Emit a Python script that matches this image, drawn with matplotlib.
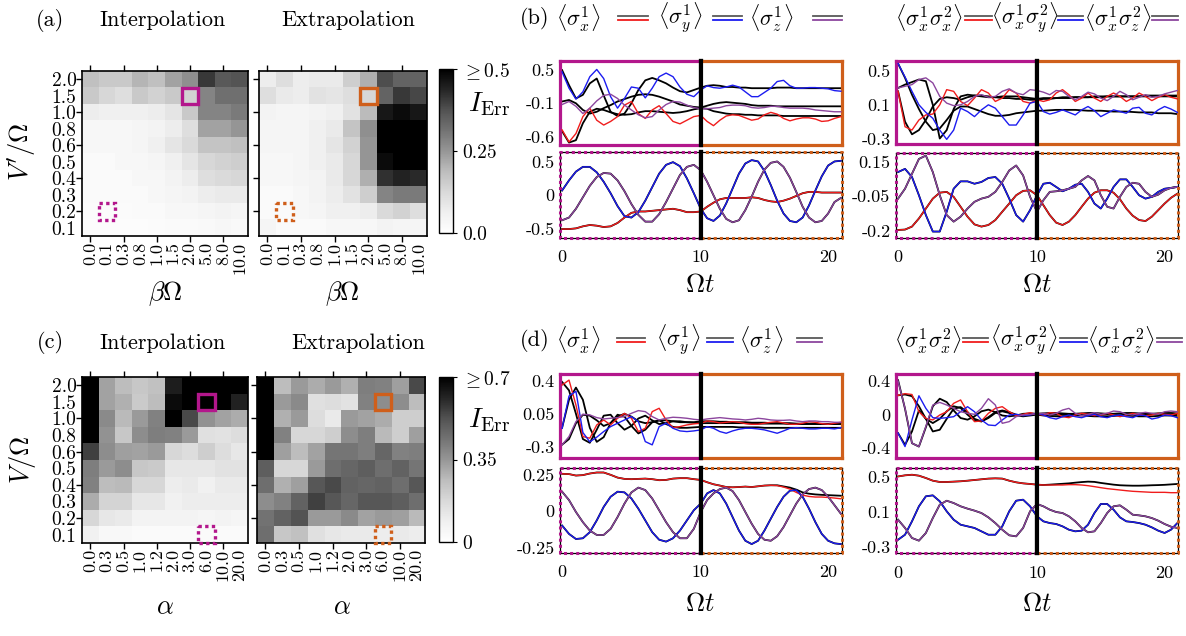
import numpy as np
import matplotlib
matplotlib.use('Agg')
import matplotlib.pyplot as plt
from matplotlib.patches import Rectangle

plt.rcParams['font.family'] = 'cmr10'
plt.rcParams['mathtext.fontset'] = 'cm'
plt.rcParams['axes.unicode_minus'] = False

W, H = 1186, 636

# ---------------- heatmap data (rows from top: V=2.0 ... 0.1) ----------------
beta_labels = ['0.0', '0.1', '0.3', '0.8', '1.0', '1.5', '2.0', '5.0', '8.0', '10.0']
alpha_labels = ['0.0', '0.3', '0.5', '1.0', '1.2', '2.0', '3.0', '6.0', '10.0', '20.0']
v_labels = ['2.0', '1.5', '1.0', '0.8', '0.6', '0.5', '0.4', '0.3', '0.2', '0.1']

a_interp = [
    [0.18, 0.16, 0.16, 0.20, 0.18, 0.23, 0.26, 0.41, 0.36, 0.37],
    [0.16, 0.13, 0.11, 0.16, 0.14, 0.16, 0.14, 0.28, 0.32, 0.32],
    [0.07, 0.06, 0.06, 0.06, 0.07, 0.09, 0.16, 0.28, 0.28, 0.30],
    [0.03, 0.03, 0.03, 0.04, 0.05, 0.07, 0.11, 0.23, 0.23, 0.25],
    [0.03, 0.03, 0.03, 0.04, 0.06, 0.09, 0.12, 0.17, 0.17, 0.18],
    [0.02, 0.02, 0.03, 0.03, 0.04, 0.06, 0.09, 0.13, 0.14, 0.15],
    [0.02, 0.02, 0.02, 0.03, 0.03, 0.05, 0.07, 0.11, 0.12, 0.13],
    [0.02, 0.02, 0.02, 0.02, 0.03, 0.04, 0.05, 0.07, 0.08, 0.08],
    [0.015, 0.015, 0.015, 0.02, 0.02, 0.03, 0.03, 0.04, 0.05, 0.04],
    [0.01, 0.01, 0.01, 0.01, 0.015, 0.02, 0.02, 0.025, 0.03, 0.025]]
a_extrap = [
    [0.07, 0.11, 0.07, 0.08, 0.08, 0.15, 0.21, 0.38, 0.34, 0.34],
    [0.11, 0.08, 0.07, 0.10, 0.09, 0.11, 0.13, 0.34, 0.41, 0.39],
    [0.05, 0.04, 0.04, 0.05, 0.06, 0.10, 0.19, 0.46, 0.48, 0.46],
    [0.04, 0.04, 0.04, 0.06, 0.08, 0.17, 0.26, 0.60, 0.60, 0.60],
    [0.04, 0.04, 0.04, 0.06, 0.09, 0.14, 0.25, 0.60, 0.60, 0.60],
    [0.03, 0.03, 0.04, 0.06, 0.08, 0.13, 0.25, 0.48, 0.60, 0.60],
    [0.03, 0.03, 0.04, 0.05, 0.08, 0.13, 0.21, 0.42, 0.44, 0.43],
    [0.02, 0.02, 0.03, 0.05, 0.07, 0.10, 0.15, 0.28, 0.30, 0.30],
    [0.02, 0.02, 0.03, 0.04, 0.06, 0.06, 0.07, 0.12, 0.14, 0.11],
    [0.04, 0.02, 0.02, 0.02, 0.03, 0.03, 0.03, 0.05, 0.04, 0.04]]
c_interp = [
    [0.90, 0.32, 0.26, 0.23, 0.25, 0.63, 0.90, 0.90, 0.90, 0.90],
    [0.90, 0.32, 0.29, 0.22, 0.26, 0.67, 0.90, 0.90, 0.90, 0.62],
    [0.90, 0.38, 0.27, 0.34, 0.40, 0.90, 0.54, 0.36, 0.32, 0.30],
    [0.90, 0.36, 0.23, 0.37, 0.41, 0.40, 0.34, 0.15, 0.14, 0.16],
    [0.56, 0.37, 0.33, 0.32, 0.34, 0.18, 0.16, 0.21, 0.16, 0.12],
    [0.41, 0.34, 0.37, 0.23, 0.22, 0.12, 0.12, 0.12, 0.14, 0.14],
    [0.40, 0.26, 0.27, 0.18, 0.18, 0.10, 0.11, 0.08, 0.11, 0.11],
    [0.30, 0.19, 0.19, 0.12, 0.12, 0.08, 0.10, 0.10, 0.10, 0.10],
    [0.18, 0.12, 0.11, 0.07, 0.07, 0.07, 0.07, 0.06, 0.07, 0.06],
    [0.08, 0.04, 0.04, 0.03, 0.03, 0.03, 0.03, 0.03, 0.03, 0.03]]
c_extrap = [
    [0.90, 0.26, 0.34, 0.30, 0.34, 0.29, 0.41, 0.40, 0.33, 0.54],
    [0.90, 0.34, 0.38, 0.15, 0.16, 0.14, 0.40, 0.37, 0.37, 0.26],
    [0.90, 0.29, 0.34, 0.16, 0.11, 0.34, 0.32, 0.30, 0.21, 0.21],
    [0.90, 0.40, 0.18, 0.18, 0.21, 0.37, 0.41, 0.27, 0.21, 0.33],
    [0.90, 0.33, 0.26, 0.32, 0.43, 0.43, 0.41, 0.47, 0.40, 0.41],
    [0.49, 0.18, 0.18, 0.34, 0.45, 0.47, 0.49, 0.45, 0.48, 0.43],
    [0.45, 0.29, 0.33, 0.51, 0.54, 0.48, 0.47, 0.48, 0.45, 0.51],
    [0.37, 0.40, 0.48, 0.56, 0.51, 0.47, 0.51, 0.51, 0.49, 0.45],
    [0.44, 0.48, 0.52, 0.34, 0.34, 0.38, 0.32, 0.34, 0.33, 0.27],
    [0.45, 0.23, 0.25, 0.15, 0.12, 0.11, 0.11, 0.10, 0.11, 0.10]]

# ---------------- time series (t = 0, 0.5, ..., 21) ----------------
t = np.arange(0, 21.5, 0.5)

# (b) single-spin, top row (solid frame)
b1_red = [-0.49, -0.69, -0.55, -0.27, -0.13, -0.33, -0.41, -0.35, -0.27, -0.08,
          -0.02, -0.22, -0.30, -0.16, -0.09, -0.22, -0.35, -0.39, -0.33, -0.27,
          -0.25, -0.35, -0.42, -0.33, -0.26, -0.24, -0.25, -0.29, -0.33, -0.31,
          -0.24, -0.20, -0.23, -0.30, -0.34, -0.31, -0.29, -0.29, -0.31, -0.35,
          -0.34, -0.30, -0.27]
b1_blue = [0.47, 0.20, 0.02, 0.14, 0.39, 0.51, 0.36, 0.06, -0.13, 0.03,
           0.22, 0.20, 0.04, 0.20, 0.39, 0.45, 0.39, 0.22, 0.10, 0.06,
           0.17, 0.24, 0.21, 0.20, 0.22, 0.25, 0.22, 0.14, 0.06, 0.06,
           0.13, 0.20, 0.31, 0.33, 0.24, 0.20, 0.20, 0.21, 0.21, 0.20,
           0.19, 0.16, 0.15]
b1_purple = [-0.07, -0.02, -0.10, -0.22, -0.13, -0.01, 0.08, 0.10, 0.03, -0.08,
             -0.16, -0.24, -0.29, -0.27, -0.16, -0.07, -0.02, -0.03, -0.08, -0.12,
             -0.14, -0.14, -0.13, -0.12, -0.09, -0.08, -0.08, -0.09, -0.12, -0.13,
             -0.12, -0.10, -0.10, -0.12, -0.13, -0.13, -0.13, -0.14, -0.16, -0.17,
             -0.18, -0.19, -0.19]
b1_ref_red = [-0.51, -0.70, -0.66, -0.38, -0.19, -0.14, -0.16, -0.20, -0.23, -0.24,
              -0.23, -0.20, -0.18, -0.18, -0.19, -0.20, -0.21, -0.20, -0.18, -0.15,
              -0.13, -0.14, -0.18, -0.20, -0.22, -0.23, -0.23, -0.24, -0.24, -0.25,
              -0.25, -0.25, -0.25, -0.26, -0.26, -0.26, -0.26, -0.26, -0.26, -0.26,
              -0.26, -0.26, -0.26]
b1_ref_blue = [0.50, 0.25, 0.03, 0.09, 0.28, 0.36, 0.08, -0.19, -0.26, -0.22,
               -0.05, 0.17, 0.33, 0.37, 0.33, 0.28, 0.21, 0.15, 0.13, 0.17,
               0.21, 0.24, 0.25, 0.24, 0.22, 0.22, 0.21, 0.21, 0.20, 0.20,
               0.20, 0.20, 0.21, 0.21, 0.21, 0.20, 0.20, 0.20, 0.20, 0.20,
               0.20, 0.20, 0.20]
b1_ref_purple = [-0.02, 0.005, -0.05, -0.16, -0.22, -0.19, -0.13, -0.08, -0.02, 0.02,
                 0.06, 0.09, 0.10, 0.09, 0.06, 0.02, -0.02, -0.07, -0.09, -0.11,
                 -0.12, -0.09, -0.06, -0.04, -0.03, -0.04, -0.05, -0.06, -0.08, -0.09,
                 -0.09, -0.09, -0.10, -0.10, -0.10, -0.10, -0.10, -0.10, -0.10, -0.10,
                 -0.10, -0.10, -0.10]

# (b) single-spin, bottom row (dotted frame)
b2_red = [-0.50, -0.50, -0.49, -0.46, -0.44, -0.45, -0.47, -0.46, -0.41, -0.33,
          -0.26, -0.24, -0.24, -0.23, -0.22, -0.21, -0.20, -0.22, -0.25, -0.25,
          -0.24, -0.17, -0.11, -0.06, -0.04, -0.04, -0.04, -0.04, -0.03, -0.04,
          -0.07, -0.09, -0.10, -0.08, -0.05, -0.01, 0.03, 0.05, 0.05, 0.04,
          0.04, 0.04, 0.04]
b2_blue = [0.07, 0.22, 0.35, 0.42, 0.42, 0.34, 0.20, 0.03, -0.16, -0.31,
           -0.33, -0.25, -0.08, 0.12, 0.32, 0.45, 0.49, 0.43, 0.25, 0.03,
           -0.20, -0.34, -0.38, -0.30, -0.12, 0.10, 0.32, 0.47, 0.52, 0.50,
           0.36, 0.15, -0.08, -0.27, -0.38, -0.40, -0.33, -0.15, 0.07, 0.28,
           0.44, 0.50, 0.51]
b2_purple = [-0.37, -0.33, -0.20, -0.03, 0.14, 0.27, 0.33, 0.32, 0.22, 0.06,
             -0.13, -0.29, -0.39, -0.39, -0.28, -0.10, 0.10, 0.30, 0.42, 0.45,
             0.37, 0.20, 0.00, -0.20, -0.35, -0.40, -0.37, -0.22, -0.02, 0.20,
             0.38, 0.48, 0.50, 0.42, 0.26, 0.05, -0.17, -0.33, -0.40, -0.38,
             -0.27, -0.10, -0.04]

# (b) two-spin, top row
b3_red = [0.26, -0.16, -0.20, -0.08, -0.02, -0.01, 0.10, 0.28, 0.26, 0.14,
          0.09, 0.18, 0.28, 0.24, 0.14, 0.18, 0.28, 0.24, 0.14, 0.12,
          0.16, 0.14, 0.16, 0.24, 0.28, 0.22, 0.14, 0.18, 0.24, 0.18,
          0.14, 0.20, 0.24, 0.20, 0.14, 0.18, 0.24, 0.20, 0.15, 0.19,
          0.22, 0.19, 0.17]
b3_blue = [0.59, 0.43, 0.26, 0.10, 0.01, -0.06, -0.20, -0.31, -0.20, 0.06,
           0.02, -0.04, 0.04, 0.10, 0.06, -0.04, -0.14, -0.14, -0.02, 0.12,
           0.14, 0.02, -0.01, 0.01, 0.04, 0.01, -0.02, 0.04, 0.08, 0.03,
           -0.04, 0.00, 0.04, 0.02, 0.00, 0.06, 0.07, 0.00, -0.02, 0.04,
           0.08, 0.05, 0.01]
b3_purple = [0.30, 0.32, 0.34, 0.40, 0.42, 0.36, 0.20, 0.12, 0.09, 0.10,
             0.14, 0.20, 0.22, 0.19, 0.20, 0.26, 0.29, 0.24, 0.22, 0.28,
             0.27, 0.25, 0.22, 0.27, 0.26, 0.20, 0.16, 0.20, 0.25, 0.23,
             0.18, 0.15, 0.20, 0.26, 0.22, 0.16, 0.19, 0.22, 0.19, 0.20,
             0.23, 0.25, 0.27]
b3_ref_red = [0.26, -0.10, -0.25, -0.20, -0.08, 0.08, 0.17, 0.19, 0.18, 0.16,
              0.19, 0.21, 0.21, 0.20, 0.19, 0.18, 0.18, 0.17, 0.17, 0.16,
              0.16, 0.17, 0.17, 0.18, 0.18, 0.18, 0.19, 0.19, 0.19, 0.19,
              0.19, 0.20, 0.20, 0.20, 0.20, 0.20, 0.20, 0.21, 0.21, 0.21,
              0.21, 0.21, 0.21]
b3_ref_blue = [0.59, 0.42, 0.22, 0.05, -0.10, -0.20, -0.18, -0.08, 0.03, 0.08,
               0.08, 0.05, 0.02, -0.01, -0.03, -0.03, -0.02, 0.00, 0.01, 0.02,
               0.03, 0.03, 0.035, 0.04, 0.04, 0.04, 0.04, 0.035, 0.03, 0.03,
               0.03, 0.025, 0.02, 0.02, 0.02, 0.015, 0.01, 0.01, 0.01, 0.00,
               0.00, 0.00, -0.01]
b3_ref_purple = [0.30, 0.34, 0.37, 0.40, 0.38, 0.10, -0.30, -0.20, 0.05, 0.20,
                 0.22, 0.21, 0.20, 0.19, 0.19, 0.20, 0.20, 0.20, 0.19, 0.18,
                 0.17, 0.18, 0.18, 0.18, 0.19, 0.19, 0.19, 0.19, 0.19, 0.20,
                 0.20, 0.20, 0.20, 0.20, 0.20, 0.20, 0.20, 0.20, 0.20, 0.20,
                 0.20, 0.20, 0.20]

# (b) two-spin, bottom row
b4_red = [-0.195, -0.193, -0.178, -0.137, -0.087, -0.037, -0.007, -0.003, -0.028, -0.078,
          -0.128, -0.167, -0.178, -0.170, -0.145, -0.103, -0.062, -0.020, 0.002, 0.005,
          -0.020, -0.070, -0.120, -0.158, -0.170, -0.153, -0.120, -0.078, -0.037, -0.007,
          0.005, 0.005, -0.007, -0.040, -0.087, -0.123, -0.145, -0.150, -0.128, -0.095,
          -0.062, -0.033, -0.012]
b4_blue = [0.097, 0.113, 0.072, -0.020, -0.120, -0.203, -0.203, -0.103, 0.013, 0.050,
           0.050, 0.038, 0.047, 0.067, 0.072, 0.038, -0.037, -0.120, -0.153, -0.095,
           -0.020, 0.038, 0.043, 0.022, 0.000, 0.013, 0.033, 0.038, -0.003, -0.062,
           -0.087, -0.037, 0.022, 0.060, 0.060, 0.022, -0.020, -0.037, -0.028, -0.003,
           0.013, 0.017, 0.022]
b4_purple = [-0.037, 0.013, 0.088, 0.163, 0.180, 0.097, -0.020, -0.120, -0.153, -0.128,
             -0.087, -0.053, -0.037, -0.028, -0.003, 0.047, 0.105, 0.130, 0.080, -0.028,
             -0.103, -0.045, -0.003, 0.000, 0.005, 0.013, 0.022, 0.055, 0.077, 0.055,
             -0.020, -0.078, -0.087, -0.028, 0.022, 0.043, 0.038, -0.003, -0.028, -0.017,
             0.005, 0.017, 0.022]

# (d) single-spin, top row
d1_red = [0.357, 0.410, 0.144, -0.193, -0.211, -0.069, -0.016, -0.069, 0.002, 0.055,
          0.002, -0.140, -0.105, 0.073, 0.109, -0.016, -0.098, -0.087, -0.069, -0.058,
          -0.051, -0.027, -0.034, -0.048, -0.041, -0.034, -0.041, -0.055, -0.062, -0.062,
          -0.051, -0.041, -0.034, -0.048, -0.062, -0.062, -0.051, -0.034, -0.041, -0.055,
          -0.062, -0.051, -0.041]
d1_blue = [-0.105, 0.240, 0.290, -0.150, -0.250, -0.200, -0.140, -0.087, -0.051, -0.016,
           0.020, -0.034, -0.247, -0.282, -0.087, -0.051, -0.105, -0.133, -0.140, -0.133,
           -0.122, -0.087, -0.105, -0.140, -0.158, -0.133, -0.115, -0.105, -0.105, -0.112,
           -0.122, -0.140, -0.158, -0.133, -0.105, -0.098, -0.105, -0.112, -0.112, -0.105,
           -0.105, -0.112, -0.098]
d1_purple = [-0.282, -0.193, -0.034, 0.045, 0.038, 0.009, -0.005, 0.002, 0.009, 0.020,
             0.055, 0.084, 0.073, 0.020, -0.016, 0.002, 0.013, 0.009, 0.002, -0.009,
             -0.016, -0.005, 0.002, 0.009, 0.002, -0.005, -0.009, -0.016, -0.009, 0.002,
             -0.005, -0.016, -0.020, -0.020, -0.016, -0.027, -0.034, -0.027, -0.027, -0.034,
             -0.034, -0.041, -0.041]
d1_ref_red = [0.39, 0.30, 0.05, -0.22, -0.26, -0.12, 0.03, 0.04, -0.05, -0.12,
              -0.08, 0.00, 0.03, -0.02, -0.06, -0.05, -0.03, -0.03, -0.04, -0.045,
              -0.05, -0.05, -0.05, -0.05, -0.05, -0.05, -0.05, -0.05, -0.055, -0.055,
              -0.055, -0.055, -0.055, -0.055, -0.06, -0.06, -0.06, -0.06, -0.06, -0.06,
              -0.06, -0.06, -0.06]
d1_ref_blue = [-0.10, 0.20, 0.33, 0.20, -0.10, -0.25, -0.20, -0.05, 0.04, 0.02,
               -0.08, -0.16, -0.12, -0.04, -0.02, -0.06, -0.09, -0.10, -0.10, -0.095,
               -0.09, -0.09, -0.09, -0.09, -0.09, -0.09, -0.095, -0.095, -0.095, -0.095,
               -0.10, -0.10, -0.10, -0.10, -0.10, -0.10, -0.10, -0.10, -0.10, -0.10,
               -0.10, -0.10, -0.10]
d1_ref_purple = [-0.28, -0.22, -0.05, 0.04, 0.03, -0.02, -0.08, -0.05, 0.02, 0.05,
                 0.02, -0.03, -0.05, -0.04, -0.02, -0.02, -0.03, -0.04, -0.04, -0.04,
                 -0.03, -0.03, -0.03, -0.035, -0.035, -0.04, -0.04, -0.04, -0.045, -0.045,
                 -0.045, -0.05, -0.05, -0.05, -0.05, -0.055, -0.055, -0.055, -0.055, -0.06,
                 -0.06, -0.06, -0.06]

# (d) single-spin, bottom row
d2_red = [0.257, 0.255, 0.245, 0.248, 0.259, 0.266, 0.266, 0.250, 0.231, 0.222,
          0.220, 0.222, 0.224, 0.220, 0.213, 0.215, 0.224, 0.227, 0.227, 0.220,
          0.215, 0.199, 0.185, 0.176, 0.166, 0.164, 0.166, 0.169, 0.166, 0.171,
          0.176, 0.178, 0.176, 0.166, 0.152, 0.129, 0.110, 0.101, 0.097, 0.097,
          0.094, 0.090, 0.085]
d2_ref_red = [0.257, 0.255, 0.245, 0.248, 0.259, 0.266, 0.266, 0.250, 0.231, 0.222,
              0.220, 0.222, 0.224, 0.220, 0.213, 0.215, 0.224, 0.227, 0.227, 0.220,
              0.215, 0.199, 0.185, 0.176, 0.166, 0.164, 0.166, 0.169, 0.166, 0.171,
              0.176, 0.178, 0.178, 0.170, 0.162, 0.148, 0.129, 0.120, 0.115, 0.112,
              0.110, 0.108, 0.106]
d2_blue = [-0.099, -0.157, -0.192, -0.187, -0.145, -0.064, 0.029, 0.099, 0.134, 0.129,
           0.087, 0.017, -0.064, -0.145, -0.197, -0.210, -0.187, -0.134, -0.064, 0.006,
           0.052, 0.122, 0.145, 0.122, 0.052, -0.041, -0.134, -0.204, -0.227, -0.204,
           -0.134, -0.052, 0.029, 0.099, 0.141, 0.145, 0.099, 0.017, -0.076, -0.157,
           -0.204, -0.222, -0.227]
d2_purple = [0.134, 0.076, -0.006, -0.076, -0.134, -0.164, -0.164, -0.122, -0.041, 0.052,
             0.129, 0.162, 0.145, 0.087, 0.006, -0.076, -0.145, -0.187, -0.187, -0.122,
             -0.006, 0.076, 0.122, 0.152, 0.162, 0.138, 0.076, -0.006, -0.087, -0.157,
             -0.197, -0.204, -0.173, -0.110, -0.029, 0.052, 0.115, 0.152, 0.162, 0.145,
             0.099, 0.041, -0.018]

# (d) two-spin, top row
d3_red = [0.23, 0.25, 0.24, 0.035, -0.044, -0.063, -0.004, 0.035, 0.135, 0.175,
          0.035, -0.083, -0.075, 0.016, 0.075, 0.095, 0.035, -0.012, 0.004, 0.024,
          0.004, -0.004, 0.024, 0.016, -0.024, -0.036, -0.004, 0.016, 0.004, -0.012,
          -0.004, 0.016, -0.004, -0.024, -0.004, 0.016, 0.004, -0.012, -0.004, 0.016,
          0.004, -0.004, 0.016]
d3_blue = [-0.22, -0.38, -0.063, 0.225, 0.075, -0.036, -0.044, -0.036, -0.024, 0.035,
           0.095, 0.035, -0.063, -0.123, -0.130, -0.063, -0.004, 0.004, -0.012, -0.004,
           0.016, -0.004, -0.036, -0.052, -0.024, -0.004, -0.024, -0.036, -0.012, 0.004,
           -0.024, -0.036, -0.012, -0.004, -0.024, -0.036, -0.004, -0.012, -0.052, -0.036,
           -0.004, -0.012, -0.036]
d3_purple = [0.40, 0.075, -0.34, -0.38, -0.14, 0.115, 0.146, 0.115, 0.075, 0.035,
             0.016, 0.004, 0.075, 0.190, 0.115, -0.103, -0.083, -0.024, -0.004, 0.004,
             0.008, 0.016, -0.004, 0.016, 0.055, 0.075, 0.016, -0.012, 0.004, 0.024,
             0.004, 0.016, 0.043, 0.035, 0.004, -0.004, 0.016, 0.028, 0.016, 0.004,
             0.035, 0.043, 0.035]
d3_ref_red = [0.23, 0.24, 0.22, 0.10, -0.05, -0.10, -0.05, 0.04, 0.10, 0.08,
              0.00, -0.07, -0.08, -0.03, 0.03, 0.05, 0.03, 0.00, -0.01, 0.00,
              0.01, 0.015, 0.02, 0.02, 0.015, 0.01, 0.01, 0.015, 0.02, 0.02,
              0.015, 0.01, 0.01, 0.015, 0.02, 0.02, 0.015, 0.01, 0.01, 0.015,
              0.02, 0.02, 0.015]
d3_ref_blue = [-0.22, -0.36, -0.20, 0.05, -0.05, -0.20, -0.18, -0.05, 0.07, 0.09,
               0.03, -0.05, -0.08, -0.04, 0.02, 0.04, 0.02, -0.01, -0.02, -0.01,
               0.00, -0.01, -0.015, -0.02, -0.02, -0.015, -0.01, -0.01, -0.015, -0.02,
               -0.02, -0.02, -0.015, -0.01, -0.01, -0.015, -0.02, -0.02, -0.02, -0.015,
               -0.01, -0.01, -0.015]
d3_ref_purple = [0.41, 0.07, -0.34, -0.38, -0.15, 0.10, 0.19, 0.15, 0.05, -0.04,
                 -0.06, -0.02, 0.04, 0.06, 0.03, -0.01, -0.02, -0.01, 0.01, 0.015,
                 0.01, 0.01, 0.005, 0.00, 0.00, 0.005, 0.01, 0.01, 0.005, 0.00,
                 0.00, 0.005, 0.01, 0.01, 0.005, 0.00, 0.00, 0.005, 0.01, 0.01,
                 0.005, 0.00, 0.00]

# (d) two-spin, bottom row
d4_red = [0.510, 0.523, 0.530, 0.519, 0.492, 0.461, 0.446, 0.446, 0.450, 0.454,
          0.461, 0.469, 0.477, 0.485, 0.488, 0.485, 0.461, 0.442, 0.430, 0.423,
          0.415, 0.411, 0.411, 0.411, 0.411, 0.415, 0.415, 0.411, 0.403, 0.392,
          0.380, 0.369, 0.361, 0.353, 0.345, 0.338, 0.334, 0.330, 0.326, 0.326,
          0.326, 0.322, 0.322]
d4_ref_red = [0.510, 0.523, 0.530, 0.519, 0.492, 0.461, 0.446, 0.446, 0.450, 0.454,
              0.461, 0.469, 0.477, 0.485, 0.488, 0.485, 0.461, 0.442, 0.430, 0.423,
              0.415, 0.411, 0.415, 0.420, 0.425, 0.430, 0.438, 0.445, 0.450, 0.447,
              0.435, 0.425, 0.415, 0.408, 0.405, 0.403, 0.403, 0.405, 0.408, 0.410,
              0.413, 0.418, 0.423]
d4_blue = [-0.223, -0.165, -0.010, 0.164, 0.280, 0.291, 0.222, 0.106, 0.009, -0.049,
           -0.068, -0.087, -0.126, -0.165, -0.165, -0.068, 0.106, 0.229, 0.241, 0.164,
           0.048, -0.010, -0.030, -0.041, -0.068, -0.107, -0.126, -0.118, -0.049, 0.086,
           0.191, 0.191, 0.125, 0.036, -0.010, -0.018, -0.030, -0.049, -0.080, -0.118,
           -0.145, -0.107, -0.030]
d4_purple = [0.009, -0.087, -0.203, -0.234, -0.145, 0.028, 0.183, 0.229, 0.202, 0.164,
             0.137, 0.114, 0.086, 0.036, -0.030, -0.107, -0.172, -0.184, -0.087, 0.106,
             0.191, 0.164, 0.125, 0.098, 0.086, 0.048, -0.010, -0.087, -0.137, -0.126,
             -0.030, 0.086, 0.164, 0.175, 0.125, 0.067, 0.059, 0.048, 0.028, -0.002,
             -0.041, -0.072, -0.087]

RED, BLUE, PURPLE = '#f01c1c', '#1c1cf0', '#8c469e'
MAG, ORG = '#b3178c', '#cf5f1b'

fig = plt.figure(figsize=(W / 100, H / 100), dpi=100)


def px_axes(x0, y0, x1, y1):
    return fig.add_axes([x0 / W, 1 - y1 / H, (x1 - x0) / W, (y1 - y0) / H])


def heatmap(box, vals, vmax, xlabels, show_y, marks, color):
    ax = px_axes(*box)
    im = ax.imshow(np.array(vals), cmap='Greys', vmin=0, vmax=vmax,
                   aspect='auto', interpolation='nearest')
    ax.xaxis.remove_overlapping_locs = False
    ax.yaxis.remove_overlapping_locs = False
    ax.set_xticks(range(0, 10, 2))
    ax.set_yticks(range(0, 10, 2))
    ax.set_xticklabels([])
    ax.set_yticklabels([])
    ax.set_xticks(range(10), minor=True)
    ax.set_yticks(range(10), minor=True)
    ax.set_xticklabels(xlabels, minor=True, rotation=90, fontsize=13)
    ax.set_yticklabels(v_labels if show_y else [], minor=True, fontsize=14)
    ax.tick_params(which='minor', length=0, pad=4)
    ax.tick_params(which='major', length=4, width=1, top=True)
    for s in ax.spines.values():
        s.set_linewidth(1.2)
    for (col, row, ls) in marks:
        ax.add_patch(Rectangle((col - 0.5, row - 0.5), 1, 1, fill=False, ec=color,
                               lw=2.4, ls=ls, zorder=5, clip_on=False))
    return im


def colorbar(im, box, vmax, labels):
    cax = px_axes(*box)
    cb = fig.colorbar(im, cax=cax, ticks=[0, vmax / 2, vmax])
    cb.ax.set_yticklabels(labels, fontsize=14)
    cb.ax.tick_params(length=3, width=0.8)
    cb.outline.set_linewidth(1)


solid, dotted = '-', (0, (1, 1))

im = heatmap((82, 71, 248, 236), a_interp, 0.5, beta_labels, True,
             [(6, 1, solid), (1, 8, dotted)], MAG)
heatmap((259, 71, 427, 236), a_extrap, 0.5, beta_labels, False,
        [(6, 1, solid), (1, 8, dotted)], ORG)
colorbar(im, (439, 69, 453, 233), 0.5, ['0.0', '0.25', r'$\geq 0.5$'])

im = heatmap((82, 377, 248, 543), c_interp, 0.7, alpha_labels, True,
             [(7, 1, solid), (7, 9, dotted)], MAG)
heatmap((257, 377, 425, 543), c_extrap, 0.7, alpha_labels, False,
        [(7, 1, solid), (7, 9, dotted)], ORG)
colorbar(im, (439, 377, 453, 542), 0.7, ['0', '0.35', r'$\geq 0.7$'])


def series(x0, x1, y0, y1, curves, refs, ylim, yt, ytl, frame, show_x):
    xm = x0 + (x1 - x0) / 2
    axl = px_axes(x0, y0, xm, y1)
    axr = px_axes(xm, y0, x1, y1)
    for ax in (axl, axr):
        for r in refs:
            ax.plot(t, r, color='k', lw=1.3, zorder=2)
        for vals, c in curves:
            ax.plot(t, vals, color=c, lw=1.0, zorder=3)
        ax.set_ylim(*ylim)
        ax.tick_params(length=0, labelsize=13, pad=4)
    axl.set_xlim(-0.15, 10)
    axr.set_xlim(10, 21.05)
    axl.set_yticks(yt)
    axl.set_yticklabels(ytl)
    axr.set_yticks([])
    if show_x:
        axl.set_xticks([0])
        axl.set_xticklabels(['0'])
        axr.set_xticks([10, 20])
        axr.set_xticklabels(['10', '20'])
        for ax in (axl, axr):
            ax.tick_params(axis='x', pad=9)
    else:
        axl.set_xticks([])
        axr.set_xticks([])
    if frame == 'solid':
        for s in axl.spines.values():
            s.set_color(MAG)
            s.set_linewidth(2.3)
        for s in axr.spines.values():
            s.set_color(ORG)
            s.set_linewidth(2.3)
    else:
        # thin black frame with a coloured dotted frame drawn over it
        for ax in (axl, axr):
            for s in ax.spines.values():
                s.set_linewidth(0.9)
        dot = dict(lw=2.2, ls=(0, (1, 1)), zorder=4, clip_on=False)
        axl.plot([1, 0, 0, 1], [0, 0, 1, 1], color=MAG, transform=axl.transAxes, **dot)
        axr.plot([0, 1, 1, 0], [0, 0, 1, 1], color=ORG, transform=axr.transAxes, **dot)
    # thick black separator at t = 10
    for ax, side in ((axl, 'right'), (axr, 'left')):
        ax.spines[side].set_visible(True)
        ax.spines[side].set_color('k')
        ax.spines[side].set_linewidth(3.0)
        ax.spines[side].set_zorder(6)


# (b)
series(560, 841.5, 61, 145,
       [(b1_red, RED), (b1_blue, BLUE), (b1_purple, PURPLE)],
       [b1_ref_red, b1_ref_blue, b1_ref_purple],
       (-0.74, 0.65), [0.5, -0.05, -0.6], ['0.5', '-0.1', '-0.6'], 'solid', False)
series(560, 841.5, 152, 237.5,
       [(b2_red, RED), (b2_blue, BLUE), (b2_purple, PURPLE)],
       [b2_red, b2_blue, b2_purple],
       (-0.625, 0.64), [0.5, 0.0, -0.5], ['0.5', '0', '-0.5'], 'dotted', True)
series(896, 1178, 61, 144,
       [(b3_red, RED), (b3_blue, BLUE), (b3_purple, PURPLE)],
       [b3_ref_red, b3_ref_blue, b3_ref_purple],
       (-0.365, 0.62), [0.5, 0.1, -0.3], ['0.5', '0.1', '-0.3'], 'solid', False)
series(896, 1178, 153, 237.5,
       [(b4_red, RED), (b4_blue, BLUE), (b4_purple, PURPLE)],
       [b4_red, b4_blue, b4_purple],
       (-0.233, 0.193), [0.15, -0.025, -0.2], ['0.15', '-0.05', '-0.2'], 'dotted', True)
# (d)
series(560, 841.5, 374, 457.5,
       [(d1_red, RED), (d1_blue, BLUE), (d1_purple, PURPLE)],
       [d1_ref_red, d1_ref_blue, d1_ref_purple],
       (-0.417, 0.475), [0.4, 0.05, -0.3], ['0.4', '0.05', '-0.3'], 'solid', False)
series(560, 841.5, 468, 552.5,
       [(d2_red, RED), (d2_blue, BLUE), (d2_purple, PURPLE)],
       [d2_ref_red, d2_blue, d2_purple],
       (-0.285, 0.297), [0.25, 0.0, -0.25], ['0.25', '0', '-0.25'], 'dotted', True)
series(896, 1178, 373.5, 457.5,
       [(d3_red, RED), (d3_blue, BLUE), (d3_purple, PURPLE)],
       [d3_ref_red, d3_ref_blue, d3_ref_purple],
       (-0.51, 0.49), [0.4, 0.0, -0.4], ['0.4', '0', '-0.4'], 'solid', False)
series(896, 1178, 468, 553,
       [(d4_red, RED), (d4_blue, BLUE), (d4_purple, PURPLE)],
       [d4_ref_red, d4_blue, d4_purple],
       (-0.377, 0.608), [0.5, 0.1, -0.3], ['0.5', '0.1', '-0.3'], 'dotted', True)

# ---------------- overlay texts (pixel coordinates) ----------------
ov = fig.add_axes([0, 0, 1, 1])
ov.set_xlim(0, W)
ov.set_ylim(H, 0)
ov.axis('off')

for y, lab, vlab, xl in ((20, '(a)', r"$V'/\Omega$", r'$\beta\Omega$'),
                         (343, '(c)', r'$V/\Omega$', r'$\alpha$')):
    top = y < 100
    ov.text(50, y, lab, fontsize=16, ha='center', va='center')
    ov.text(163, y, 'Interpolation', fontsize=16, ha='center', va='center')
    ov.text(348 if top else 358, y, 'Extrapolation', fontsize=16, ha='center', va='center')
    ov.text(22, 152 if top else 460, vlab, fontsize=19, rotation=90, ha='center', va='center')
    ov.text(165, 294 if top else 607, xl, fontsize=19, ha='center', va='center')
    ov.text(342, 294 if top else 607, xl, fontsize=19, ha='center', va='center')
    ov.text(468, 104 if top else 420, r'$I_{\mathrm{Err}}$', fontsize=20, ha='left', va='center')

for xc, y in ((700, 285), (1037, 285), (700, 604), (1037, 604)):
    ov.text(xc, y, r'$\Omega t$', fontsize=19, ha='center', va='center')

one = [r'$\langle\sigma_x^1\rangle$', r'$\langle\sigma_y^1\rangle$', r'$\langle\sigma_z^1\rangle$']
two = [r'$\langle\sigma_x^1\sigma_x^2\rangle$', r'$\langle\sigma_x^1\sigma_y^2\rangle$',
       r'$\langle\sigma_x^1\sigma_z^2\rangle$']
cols = [RED, BLUE, PURPLE]


def legend_row(y, labels, text_x, line_x):
    for lab, tx, (lx0, lx1), c in zip(labels, text_x, line_x, cols):
        ov.text(tx, y, lab, fontsize=16, ha='center', va='center')
        ov.plot([lx0, lx1], [y - 2.2, y - 2.2], color='0.35', lw=1.3)
        ov.plot([lx0, lx1], [y + 2.2, y + 2.2], color=c, lw=1.3)


ov.text(535, 18, '(b)', fontsize=16, ha='center', va='center')
legend_row(18, one, [578, 680, 771], [(618, 648), (713, 742), (813, 842)])
legend_row(18, two, [929, 1025, 1118], [(965, 992), (1058, 1083), (1152, 1178)])
ov.text(535, 340, '(d)', fontsize=16, ha='center', va='center')
legend_row(340, one, [578, 678, 761], [(617, 645), (707, 733), (797, 822)])
legend_row(340, two, [928, 1024, 1121], [(963, 988), (1060, 1087), (1157, 1182)])

fig.savefig('out.png', dpi=100)
